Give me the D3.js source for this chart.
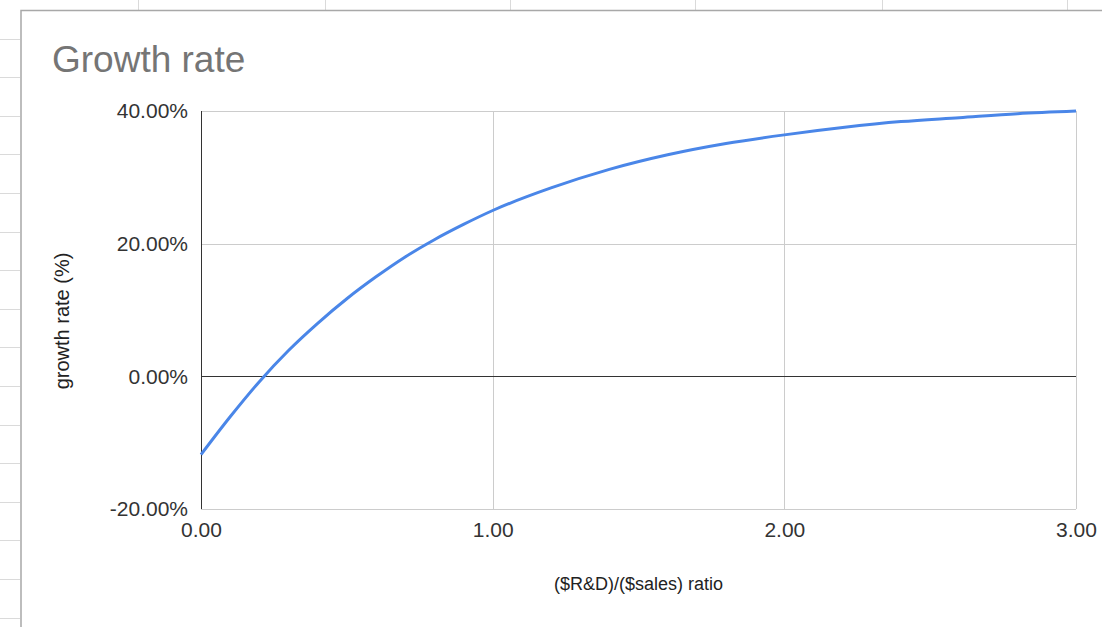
<!DOCTYPE html>
<html>
<head>
<meta charset="utf-8">
<script src="https://cdn.jsdelivr.net/npm/d3@7"></script>
<style>
  body { margin: 0; background: #fff; }
  svg { display: block; font-family: "Liberation Sans", Arial, sans-serif; }
</style>
</head>
<body>
<svg id="chart" width="1102" height="627"></svg>
<script>
// data
const ratio = [0, 0.1, 0.2, 0.3, 0.4, 0.5, 0.6, 0.7, 0.8, 0.9, 1.0, 1.2, 1.4, 1.6, 1.8, 2.0, 2.2, 2.4, 2.6, 2.8, 3.0];
const growth = [-0.118, -0.061, -0.008, 0.039, 0.080, 0.117, 0.150, 0.180, 0.206, 0.229, 0.250, 0.284, 0.312, 0.334, 0.351, 0.364, 0.375, 0.384, 0.390, 0.396, 0.400];
const xTicks = [0, 1, 2, 3];
const yTicks = [-0.2, 0, 0.2, 0.4];
const sheetCols = [138, 325, 510, 695, 882, 1067];

const width = 1102, height = 627;
const svg = d3.select("#chart");

// spreadsheet behind the chart
const sheet = svg.append("g").attr("stroke", "#dadada").attr("stroke-width", 1);
sheet.selectAll(".col").data(sheetCols).enter().append("line")
    .attr("x1", d => d + 0.5).attr("x2", d => d + 0.5)
    .attr("y1", 0).attr("y2", 10);
sheet.selectAll(".row").data(d3.range(38.5, height, 38.6)).enter().append("line")
    .attr("x1", 0).attr("x2", 20)
    .attr("y1", d => Math.round(d) + 0.5).attr("y2", d => Math.round(d) + 0.5);

// chart box
svg.append("rect")
    .attr("x", 21).attr("y", 10.5)
    .attr("width", width).attr("height", height)
    .attr("fill", "#fff")
    .attr("stroke", "#a8a8a8").attr("stroke-width", 1.5);

const margin = {left: 201, right: 26, top: 111, bottom: 118};

const x = d3.scaleLinear().domain([0, 3]).range([margin.left, width - margin.right]);
const y = d3.scaleLinear().domain([-0.2, 0.4]).range([height - margin.bottom, margin.top]);

// title
svg.append("text")
    .attr("x", 52).attr("y", 72)
    .attr("font-size", 37)
    .attr("fill", "#757575")
    .text("Growth rate");

// gridlines
const grid = svg.append("g").attr("stroke", "#cccccc").attr("stroke-width", 1);
grid.selectAll(".gx").data(xTicks.slice(1)).enter().append("line")
    .attr("x1", d => Math.round(x(d)) + 0.5).attr("x2", d => Math.round(x(d)) + 0.5)
    .attr("y1", y(0.4)).attr("y2", y(-0.2));
grid.selectAll(".gy").data(yTicks.filter(d => d !== 0)).enter().append("line")
    .attr("x1", x(0)).attr("x2", x(3))
    .attr("y1", d => Math.round(y(d)) + 0.5).attr("y2", d => Math.round(y(d)) + 0.5);

// zero line and left axis
svg.append("line")
    .attr("x1", x(0)).attr("x2", x(3))
    .attr("y1", Math.round(y(0)) + 0.5).attr("y2", Math.round(y(0)) + 0.5)
    .attr("stroke", "#333").attr("stroke-width", 1);
svg.append("line")
    .attr("x1", Math.round(x(0)) + 0.5).attr("x2", Math.round(x(0)) + 0.5)
    .attr("y1", y(0.4)).attr("y2", y(-0.2))
    .attr("stroke", "#333").attr("stroke-width", 1);

// axes (labels only)
const pct = d3.format(".2%");
const yAxis = svg.append("g")
    .attr("transform", "translate(" + (x(0) - 10) + ",0)")
    .call(d3.axisLeft(y).tickValues(yTicks).tickSize(0)
        .tickFormat(d => pct(d).replace("\u2212", "-")));
const xAxis = svg.append("g")
    .attr("transform", "translate(0," + (y(-0.2) + 10) + ")")
    .call(d3.axisBottom(x).tickValues(xTicks).tickSize(0).tickFormat(d3.format(".2f")));
[xAxis, yAxis].forEach(function(a) {
    a.select(".domain").remove();
    a.selectAll("text")
        .attr("font-family", "Liberation Sans, Arial, sans-serif")
        .attr("font-size", 21)
        .attr("fill", "#333");
});

// axis titles
svg.append("text")
    .attr("x", x(1.5)).attr("y", 590)
    .attr("text-anchor", "middle")
    .attr("font-size", 18)
    .attr("fill", "#222")
    .text("($R&D)/($sales) ratio");
svg.append("text")
    .attr("transform", "translate(69,321) rotate(-90)")
    .attr("text-anchor", "middle")
    .attr("font-size", 20)
    .attr("fill", "#222")
    .text("growth rate (%)");

// curve
const line = d3.line()
    .x((d, i) => x(ratio[i]))
    .y(d => y(d))
    .curve(d3.curveMonotoneX);
svg.append("path")
    .datum(growth)
    .attr("fill", "none")
    .attr("stroke", "#4a86e8")
    .attr("stroke-width", 3)
    .attr("d", line);
</script>
</body>
</html>
